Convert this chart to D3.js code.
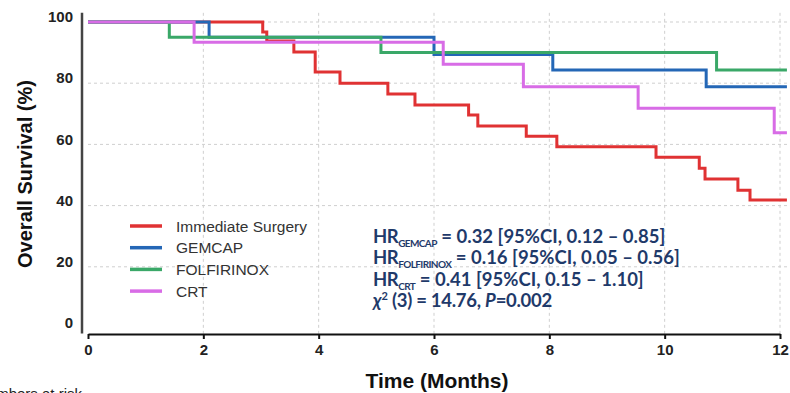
<!DOCTYPE html>
<html>
<head>
<meta charset="utf-8">
<script src="https://cdn.jsdelivr.net/npm/d3@7"></script>
<style>
  body { margin: 0; background: #fff; }
  svg { display: block; }
</style>
</head>
<body>
<svg id="chart" width="790" height="393"></svg>
<script>
// data (months, % surviving)
var groups = ["Immediate Surgery", "GEMCAP", "FOLFIRINOX", "CRT"];
var colors = ["#e03233", "#2467b6", "#3aa868", "#d86ce6"];

var surgeryTimes = [0, 3.03, 3.1, 3.57, 3.94, 4.37, 5.2, 5.67, 6.6, 6.76, 7.6, 8.13, 9.85, 10.6, 10.7, 11.27, 11.48];
var surgerySurv  = [100, 96.7, 93.8, 90.2, 83.7, 80, 76.5, 72.9, 69.6, 66, 62.7, 59.2, 55.8, 52.2, 48.7, 45, 41.8];
var gemcapTimes = [0, 2.1, 6.0, 8.06, 10.72];
var gemcapSurv  = [100, 95, 89.4, 84.3, 78.8];
var folfTimes = [0, 1.41, 5.08, 10.9];
var folfSurv  = [100, 95, 90, 84.3];
var crtTimes = [0, 1.84, 6.16, 7.55, 9.54, 11.9];
var crtSurv  = [100, 93.4, 86.2, 78.8, 71.8, 63.8];
var endTime = 12.12;

var xTicks = [0, 2, 4, 6, 8, 10, 12];
var yTicks = [0, 20, 40, 60, 80, 100];

var svg = d3.select("#chart");
var x = d3.scaleLinear().domain([0, 12]).range([88, 780]);
var y = d3.scaleLinear().domain([0, 100]).range([328, 22]);

// grid
var grid = svg.append("g").attr("class", "grid")
    .attr("stroke", "#cfcfcf").attr("stroke-width", 1).attr("stroke-dasharray", "3,3");
grid.selectAll("line.h").data(yTicks.filter(function (d) { return d > 0; }))
    .enter().append("line").attr("class", "h")
    .attr("x1", x(0)).attr("x2", x(12.2))
    .attr("y1", function (d) { return y(d); }).attr("y2", function (d) { return y(d); });
grid.selectAll("line.v").data(xTicks.filter(function (d) { return d > 0; }))
    .enter().append("line").attr("class", "v")
    .attr("y1", y(103)).attr("y2", y(-2))
    .attr("x1", function (d) { return x(d); }).attr("x2", function (d) { return x(d); });

// curves
var series = [
    { t: surgeryTimes, s: surgerySurv },
    { t: gemcapTimes, s: gemcapSurv },
    { t: folfTimes, s: folfSurv },
    { t: crtTimes, s: crtSurv }
];
var line = d3.line()
    .x(function (d) { return x(d[0]); })
    .y(function (d) { return y(d[1]); })
    .curve(d3.curveStepAfter);

series.forEach(function (sr, i) {
    var pts = sr.t.map(function (t, j) { return [t, sr.s[j]]; });
    pts.push([endTime, sr.s[sr.s.length - 1]]);
    svg.append("path")
        .attr("d", line(pts))
        .attr("fill", "none")
        .attr("stroke", colors[i])
        .attr("stroke-width", 3);
});

// axes
var xAxis = svg.append("g")
    .attr("transform", "translate(0,334)")
    .call(d3.axisBottom(x).tickValues(xTicks).tickSize(5).tickSizeOuter(0).tickPadding(5));
xAxis.select(".domain").attr("stroke", "#111").attr("stroke-width", 2.2);
xAxis.selectAll(".tick line").attr("stroke", "#111").attr("stroke-width", 2);
xAxis.selectAll(".tick text")
    .attr("font-family", "Arial, 'Liberation Sans', sans-serif")
    .attr("font-size", 15).attr("font-weight", "bold").attr("fill", "#222");

var yAxis = svg.append("g")
    .attr("transform", "translate(82,0)")
    .call(d3.axisLeft(y).tickValues(yTicks).tickSize(0).tickPadding(9));
yAxis.select(".domain")
    .attr("d", "M0," + y(103) + "V" + y(-1.8))
    .attr("stroke", "#444").attr("stroke-width", 2.5);
yAxis.selectAll(".tick text")
    .attr("dy", "-0.02em")
    .attr("font-family", "Arial, 'Liberation Sans', sans-serif")
    .attr("font-size", 15).attr("font-weight", "bold").attr("fill", "#222");

// axis titles
svg.append("text")
    .attr("x", 437).attr("y", 388)
    .attr("text-anchor", "middle")
    .attr("font-family", "Arial, 'Liberation Sans', sans-serif")
    .attr("font-size", 21).attr("font-weight", "bold").attr("fill", "#111")
    .text("Time (Months)");
svg.append("text")
    .attr("transform", "translate(32,174) rotate(-90)")
    .attr("text-anchor", "middle")
    .attr("font-family", "Arial, 'Liberation Sans', sans-serif")
    .attr("font-size", 20).attr("font-weight", "bold").attr("fill", "#111")
    .text("Overall Survival (%)");

// cut-off "number at risk" heading at the bottom edge
svg.append("text")
    .attr("x", 82).attr("y", 399)
    .attr("text-anchor", "end")
    .attr("font-family", "Arial, 'Liberation Sans', sans-serif")
    .attr("font-size", 15).attr("fill", "#222")
    .text("Numbers at risk");

// legend
var legend = svg.append("g");
groups.forEach(function (g, i) {
    var ly = 226 + i * 21.7;
    legend.append("line")
        .attr("x1", 130).attr("x2", 162).attr("y1", ly).attr("y2", ly)
        .attr("stroke", colors[i]).attr("stroke-width", 3.5);
    legend.append("text")
        .attr("x", 176).attr("y", ly + 5.5)
        .attr("font-family", "Arial, 'Liberation Sans', sans-serif")
        .attr("font-size", 15.5).attr("fill", "#333")
        .text(g);
});

// stats box
var hrSubs = ["GEMCAP", "FOLFIRINOX", "CRT"];
var hrTexts = [" = 0.32 [95%CI, 0.12 \u2013 0.85]", " = 0.16 [95%CI, 0.05 \u2013 0.56]", " = 0.41 [95%CI, 0.15 \u2013 1.10]"];
var stats = svg.append("g")
    .attr("font-family", "Lato, 'Open Sans', sans-serif")
    .attr("font-weight", "bold").attr("fill", "#1f3a6a");
hrSubs.forEach(function (s, i) {
    var t = stats.append("text").attr("x", 373).attr("y", 243 + i * 21.4).attr("font-size", 18.5);
    t.append("tspan").attr("letter-spacing", -0.5).text("HR");
    t.append("tspan").attr("font-size", 10).attr("letter-spacing", -0.6).attr("dy", 4).text(s);
    t.append("tspan").attr("dy", -4).text(hrTexts[i]);
});
var chi = stats.append("text").attr("x", 373).attr("y", 243 + 3 * 21.4).attr("font-size", 18.5);
chi.append("tspan").attr("font-style", "italic").text("\u03c7");
chi.append("tspan").attr("font-size", 11).attr("dy", -7).text("2");
chi.append("tspan").attr("dy", 7).attr("letter-spacing", -0.3).text(" (3) = 14.76, ");
chi.append("tspan").attr("font-style", "italic").text("P");
chi.append("tspan").attr("letter-spacing", -0.3).text("=0.002");
</script>
</body>
</html>
